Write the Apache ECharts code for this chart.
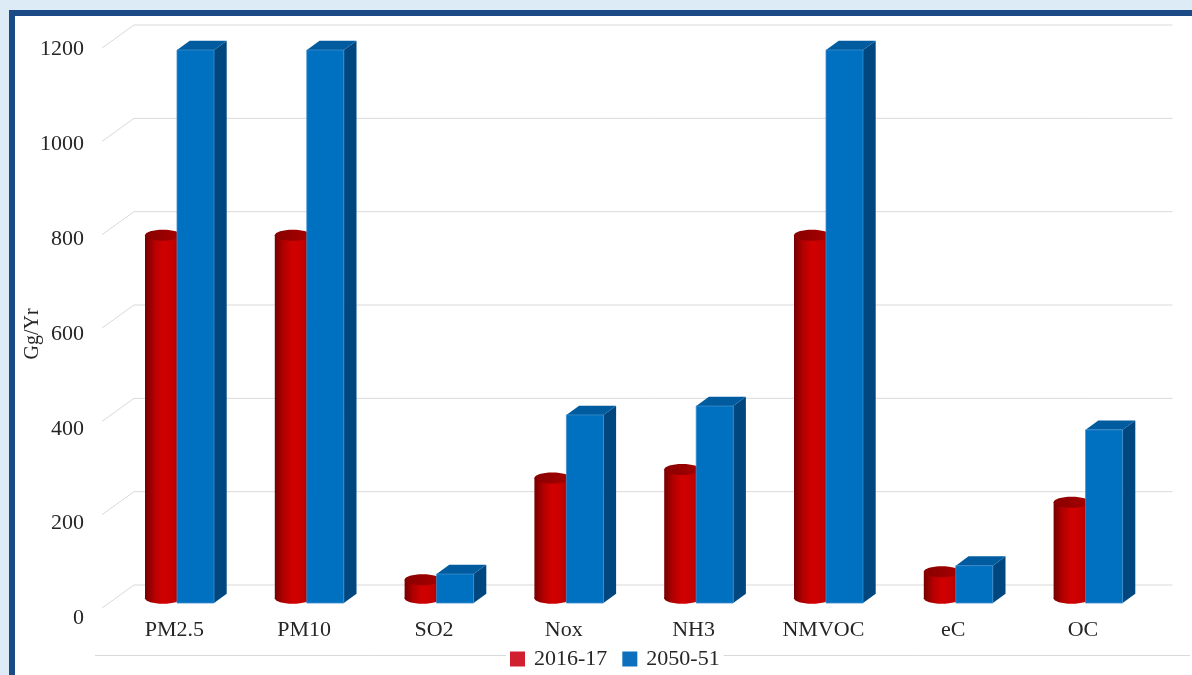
<!DOCTYPE html>
<html>
<head>
<meta charset="utf-8">
<script src="https://cdn.jsdelivr.net/npm/echarts@6/dist/echarts.min.js"></script>
<style>
  html, body { margin: 0; padding: 0; width: 1192px; height: 675px; overflow: hidden; background: #dcebf5; }
  #frame { position: absolute; left: 9px; top: 10px; right: 0; bottom: 0; background: #1b4a86; }
  #panel { position: absolute; left: 15px; top: 16px; right: 0; bottom: 0; background: #ffffff; }
  #chart { position: absolute; left: 0; top: 0; width: 1192px; height: 675px; }
</style>
</head>
<body>
<div id="frame"></div>
<div id="panel"></div>
<div id="chart"></div>
<script>
// Emission inventory (Gg/Yr) by pollutant
const categories = ['PM2.5', 'PM10', 'SO2', 'Nox', 'NH3', 'NMVOC', 'eC', 'OC'];
const emissions2016 = [778, 778, 40, 258, 276, 778, 57, 206];
const emissions2050 = [1185, 1185, 62, 403, 422, 1185, 80, 371];
const yTicks = [0, 200, 400, 600, 800, 1000, 1200];
const seriesNames = ['2016-17', '2050-51'];

const FONT = 'Liberation Serif';
const TEXT = '#262626';

// oblique 3D projection offsets (px)
const BOX_DEPTH = [12.7, -9.3];
const WALL_BACK = [24.5, -18];
const WALL_FRONT = [-7.5, 5];
const CYL_OFFSET = -11.4, CYL_R = 18, CYL_RY = 5.5;
const BOX_OFFSET = 2.6, BOX_W = 37;

const chart = echarts.init(document.getElementById('chart'), null, { renderer: 'canvas' });

function gridRender(params, api) {
  const cs = params.coordSys;
  const y = api.coord([0, api.value(1)])[1];
  const x0 = cs.x, x1 = cs.x + cs.width;
  return {
    type: 'polyline',
    silent: true,
    shape: { points: [
      [x0 + WALL_FRONT[0], y + WALL_FRONT[1]],
      [x0 + WALL_BACK[0], y + WALL_BACK[1]],
      [x1 + WALL_BACK[0], y + WALL_BACK[1]]
    ] },
    style: { stroke: '#d9d9d9', lineWidth: 1, fill: null }
  };
}

function cylinderRender(params, api) {
  const top = api.coord([api.value(0), api.value(1)]);
  const base = api.coord([api.value(0), 0]);
  const cx = top[0] + CYL_OFFSET;
  const yTop = top[1] + BOX_DEPTH[1] / 2;
  const yBot = base[1] + BOX_DEPTH[1] / 2;
  const body = {
    type: 'linear', x: 0, y: 0, x2: 1, y2: 0,
    colorStops: [
      { offset: 0, color: '#760000' },
      { offset: 0.25, color: '#b20000' },
      { offset: 0.5, color: '#d20000' },
      { offset: 0.8, color: '#c40000' },
      { offset: 1, color: '#a00000' }
    ]
  };
  return {
    type: 'group',
    children: [
      { type: 'ellipse', shape: { cx: cx, cy: yBot, rx: CYL_R, ry: CYL_RY }, style: { fill: body } },
      { type: 'rect', shape: { x: cx - CYL_R, y: yTop, width: CYL_R * 2, height: yBot - yTop }, style: { fill: body } },
      { type: 'ellipse', shape: { cx: cx, cy: yTop, rx: CYL_R, ry: CYL_RY },
        style: { fill: { type: 'linear', x: 0, y: 0, x2: 1, y2: 0,
          colorStops: [{ offset: 0, color: '#880000' }, { offset: 1, color: '#a80000' }] } } }
    ]
  };
}

function boxRender(params, api) {
  const top = api.coord([api.value(0), api.value(1)]);
  const base = api.coord([api.value(0), 0]);
  const x = top[0] + BOX_OFFSET, w = BOX_W;
  const yt = top[1], yb = base[1];
  const dx = BOX_DEPTH[0], dy = BOX_DEPTH[1];
  return {
    type: 'group',
    children: [
      { type: 'polygon', shape: { points: [[x + w, yt], [x + w + dx, yt + dy], [x + w + dx, yb + dy], [x + w, yb]] },
        style: { fill: '#00477f' } },
      { type: 'polygon', shape: { points: [[x, yt], [x + w, yt], [x + w + dx, yt + dy], [x + dx, yt + dy]] },
        style: { fill: '#005c9f' } },
      { type: 'rect', shape: { x: x, y: yt, width: w, height: yb - yt },
        style: { fill: '#0070c0', stroke: '#3d8dcc', lineWidth: 0.8 } }
    ]
  };
}

chart.setOption({
  animation: false,
  backgroundColor: 'transparent',
  textStyle: { fontFamily: FONT },
  grid: [
    { left: 109.5, right: 44.1, top: 43, bottom: 72 },
    { left: 90, right: 44, top: 49.5, bottom: 56.5 }
  ],
  xAxis: [
    {
      type: 'category', gridIndex: 0, data: categories,
      axisLine: { show: false }, axisTick: { show: false }, splitLine: { show: false },
      axisLabel: { margin: 16, fontSize: 22, color: TEXT, fontFamily: FONT }
    },
    { type: 'value', gridIndex: 1, show: false }
  ],
  yAxis: [
    { type: 'value', gridIndex: 0, min: 0, max: 1200, interval: 200, show: false },
    {
      type: 'value', gridIndex: 1, min: 0, max: 1200, interval: 200,
      axisLine: { show: false }, axisTick: { show: false }, splitLine: { show: false },
      axisLabel: { margin: 6, fontSize: 22, color: TEXT, fontFamily: FONT, formatter: v => String(v) },
      name: 'Gg/Yr', nameLocation: 'middle', nameGap: 47, nameMoveOverlap: false,
      nameTextStyle: { fontSize: 20, color: TEXT, fontFamily: FONT }
    }
  ],
  legend: {
    left: 506, top: 648, padding: [0, 4],
    backgroundColor: '#ffffff',
    itemWidth: 15, itemHeight: 15, itemGap: 15,
    icon: 'rect',
    textStyle: { fontSize: 22, color: TEXT, fontFamily: FONT, padding: [0, 0, 0, 4] },
    data: [
      { name: seriesNames[0], itemStyle: { color: '#d01f2f' } },
      { name: seriesNames[1], itemStyle: { color: '#0d70be' } }
    ]
  },
  graphic: [
    { type: 'line', z: 0, silent: true, shape: { x1: 95, y1: 655.5, x2: 1190, y2: 655.5 },
      style: { stroke: '#d9d9d9', lineWidth: 1 } }
  ],
  series: [
    {
      type: 'custom', name: 'gridlines', xAxisIndex: 0, yAxisIndex: 0, z: 1, silent: true,
      renderItem: gridRender,
      data: yTicks.map(v => [0, v])
    },
    {
      type: 'custom', name: seriesNames[0], xAxisIndex: 0, yAxisIndex: 0, z: 2,
      itemStyle: { color: '#d01f2f' },
      renderItem: cylinderRender,
      data: emissions2016.map((v, i) => [i, v])
    },
    {
      type: 'custom', name: seriesNames[1], xAxisIndex: 0, yAxisIndex: 0, z: 3,
      itemStyle: { color: '#0d70be' },
      renderItem: boxRender,
      data: emissions2050.map((v, i) => [i, v])
    }
  ]
});
</script>
</body>
</html>
